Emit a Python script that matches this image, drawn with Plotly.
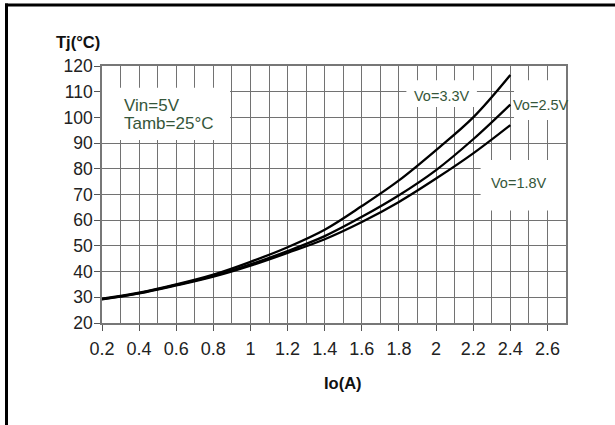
import plotly.graph_objects as go

io_a = [0.2, 0.4, 0.6, 0.8, 1.0, 1.2, 1.4, 1.6, 1.8, 2.0, 2.2, 2.4]
tj_33 = [29.5, 31.8, 35.0, 38.8, 43.8, 49.5, 56.3, 65.5, 75.5, 87.3, 100.0, 116.5]
tj_25 = [29.3, 31.6, 34.8, 38.3, 42.8, 48.0, 53.8, 61.3, 69.7, 79.5, 91.5, 105.0]
tj_18 = [29.2, 31.5, 34.6, 38.0, 42.3, 47.3, 52.6, 59.3, 67.1, 76.2, 86.0, 97.0]
x_ticks = [0.2, 0.4, 0.6, 0.8, 1.0, 1.2, 1.4, 1.6, 1.8, 2.0, 2.2, 2.4, 2.6]
x_tick_text = ["0.2", "0.4", "0.6", "0.8", "1", "1.2", "1.4", "1.6", "1.8", "2", "2.2", "2.4", "2.6"]
y_ticks = [20, 30, 40, 50, 60, 70, 80, 90, 100, 110, 120]

W, H = 615, 425
ML, MR, MT, MB = 102, 49, 66, 102
PW, PH = W - ML - MR, H - MT - MB

def px(x):
    return (x - ML) / PW

def py(y):
    return (H - MB - y) / PH

FONT = "Arial, Liberation Sans, Helvetica, sans-serif"
GREEN = "#35563a"
GRID = "#727272"

fig = go.Figure()
for ys in (tj_18, tj_25, tj_33):
    fig.add_trace(go.Scatter(x=io_a, y=ys, mode="lines", line=dict(color="black", width=2.3, shape="spline"),
                             showlegend=False, hoverinfo="skip"))

# white label boxes (between gridlines and traces)
boxes = [
    (0.2, 0.89, 91.2, 111.5),
    (1.84, 2.22, 104.0, 114.5),
    (2.42, 2.7, 99.0, 114.5),
    (2.24, 2.7, 63.8, 83.4),
]
for x0, x1, y0, y1 in boxes:
    fig.add_shape(type="rect", x0=x0, x1=x1, y0=y0, y1=y1, xref="x", yref="y",
                  fillcolor="white", line=dict(width=0), layer="between")

# outer frame (left and top edges)
fig.add_shape(type="line", xref="paper", yref="paper", x0=px(6.5), x1=px(6.5), y0=py(3.5), y1=py(430),
              line=dict(color="black", width=3))
fig.add_shape(type="line", xref="paper", yref="paper", x0=px(5), x1=px(620), y0=py(5), y1=py(5),
              line=dict(color="black", width=3))

ann = [
    dict(x=0.31, y=104.6, text="Vin=5V", xanchor="left", size=17),
    dict(x=0.31, y=97.6, text="Tamb=25°C", xanchor="left", size=17),
    dict(x=2.03, y=108.3, text="Vo=3.3V", xanchor="center", size=14.5),
    dict(x=2.567, y=105.0, text="Vo=2.5V", xanchor="center", size=14.5),
    dict(x=2.446, y=74.6, text="Vo=1.8V", xanchor="center", size=14.5),
]
for a in ann:
    fig.add_annotation(x=a["x"], y=a["y"], text=a["text"], xanchor=a["xanchor"], yanchor="middle",
                       showarrow=False, font=dict(family=FONT, size=a["size"], color=GREEN))

fig.add_annotation(xref="paper", yref="paper", x=px(54), y=py(42), text="<b>Tj(°C)</b>",
                   xanchor="left", yanchor="middle", showarrow=False,
                   font=dict(family=FONT, size=16.5, color="#111"))
fig.add_annotation(xref="paper", yref="paper", x=px(343), y=py(383), text="<b>Io(A)</b>",
                   xanchor="center", yanchor="middle", showarrow=False,
                   font=dict(family=FONT, size=16.5, color="#111"))

fig.update_layout(
    width=W, height=H,
    margin=dict(l=ML, r=MR, t=MT, b=MB, pad=0),
    paper_bgcolor="white", plot_bgcolor="white",
    font=dict(family=FONT, size=16, color="#222"),
    xaxis=dict(range=[0.2, 2.7], tickvals=x_ticks, ticktext=x_tick_text,
               ticks="outside", ticklen=6, tickcolor="#555", tickwidth=1, ticklabelstandoff=3,
               showgrid=True, gridcolor=GRID, gridwidth=1.3,
               minor=dict(dtick=0.1, tick0=0.2, showgrid=True, gridcolor=GRID, gridwidth=1.3),
               showline=True, linecolor="#777", linewidth=1.5, mirror=True, zeroline=False,
               tickfont=dict(size=18, color="#222")),
    yaxis=dict(range=[20, 120], tickvals=y_ticks, ticks="outside", ticklen=6, tickcolor="#555",
               ticklabelstandoff=-2,
               showgrid=True, gridcolor=GRID, gridwidth=1.3,
               showline=True, linecolor="#777", linewidth=1.5, mirror=True, zeroline=False,
               tickfont=dict(size=17.5, color="#222")),
)

fig.write_html("out.html", config={"displayModeBar": False},
               post_script="document.body.style.margin='0';document.body.style.padding='0';")
